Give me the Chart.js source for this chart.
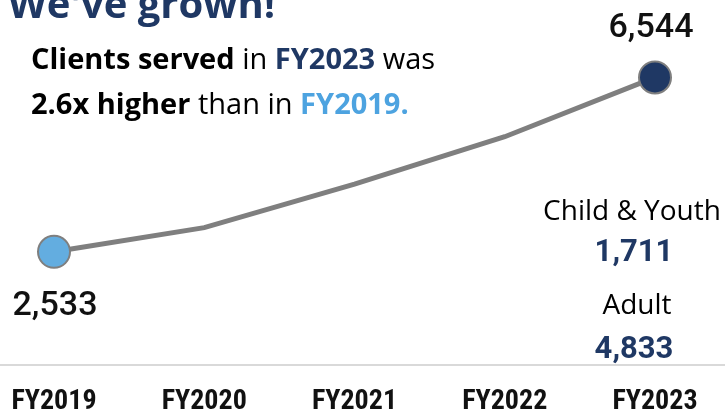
<!DOCTYPE html>
<html>
<head>
<meta charset="utf-8">
<script src="https://cdn.jsdelivr.net/npm/chart.js@4.4.0/dist/chart.umd.min.js"></script>
<style>
  html, body { margin: 0; padding: 0; background: #ffffff; }
  #wrap { width: 725px; height: 413px; position: relative; }
</style>
</head>
<body>
<div id="wrap"><canvas id="c" width="725" height="413"></canvas></div>
<script>
const categories = ["FY2019", "FY2020", "FY2021", "FY2022", "FY2023"];
const clientsServed = [2533, 3090, 4090, 5180, 6544];
const breakdownLabels = ["Child & Youth", "Adult"];
const breakdownValues = [1711, 4833];
const titleText = "We've grown!";

const NAVY = "#1f3864";
const LIGHTBLUE = "#4da3e0";
const fmt = v => v.toLocaleString("en-US");

const textPlugin = {
  id: "textPlugin",
  afterDraw(chart) {
    const ctx = chart.ctx;
    const area = chart.chartArea;
    const xs = chart.scales.x, ys = chart.scales.y;
    ctx.save();
    // full-width baseline
    ctx.strokeStyle = "#d9d9d9";
    ctx.lineWidth = 2;
    ctx.beginPath();
    ctx.moveTo(0, area.bottom + 3);
    ctx.lineTo(725, area.bottom + 3);
    ctx.stroke();

    // title
    ctx.textBaseline = "alphabetic";
    ctx.textAlign = "left";
    ctx.fillStyle = NAVY;
    ctx.font = "bold 40px 'Open Sans', sans-serif";
    ctx.fillText(titleText, 8, 18);

    // rich subtitle
    const rich = (segs, x, y) => {
      segs.forEach(s => {
        ctx.font = (s.b ? "bold " : "") + "29px 'Open Sans', sans-serif";
        ctx.fillStyle = s.c || "#000000";
        ctx.fillText(s.t, x, y);
        x += ctx.measureText(s.t).width;
      });
    };
    rich([{t: "Clients served", b: true}, {t: " in "}, {t: "FY2023", b: true, c: NAVY}, {t: " was"}], 31, 69);
    rich([{t: "2.6x higher", b: true}, {t: " than in "}, {t: "FY2019.", b: true, c: LIGHTBLUE}], 31, 114);

    // endpoint labels
    ctx.textAlign = "center";
    ctx.fillStyle = "#111111";
    ctx.font = "500 34px Roboto, sans-serif";
    const first = 0, last = clientsServed.length - 1;
    ctx.fillText(fmt(clientsServed[first]), xs.getPixelForValue(first) + 1, ys.getPixelForValue(clientsServed[first]) + 63);
    ctx.fillText(fmt(clientsServed[last]), xs.getPixelForValue(last) - 4, ys.getPixelForValue(clientsServed[last]) - 40);

    // breakdown
    const bx = 634;
    ctx.fillStyle = "#000000";
    ctx.font = "28px 'Open Sans', sans-serif";
    ctx.fillText(breakdownLabels[0], bx - 2, 220);
    ctx.fillText(breakdownLabels[1], bx + 3, 314);
    ctx.fillStyle = NAVY;
    ctx.font = "bold 31px Roboto, sans-serif";
    ctx.fillText(fmt(breakdownValues[0]), bx, 261);
    ctx.fillText(fmt(breakdownValues[1]), bx, 358);
    ctx.restore();
  }
};

new Chart(document.getElementById("c"), {
  type: "line",
  data: {
    labels: categories,
    datasets: [{
      data: clientsServed,
      borderColor: "#7f7f7f",
      borderWidth: 5,
      tension: 0,
      clip: false,
      pointRadius: clientsServed.map((v, i) => (i === 0 || i === clientsServed.length - 1) ? 16 : 0),
      pointHoverRadius: 0,
      pointBackgroundColor: clientsServed.map((v, i) => i === 0 ? "#63ade0" : NAVY),
      pointBorderColor: "#7f7f7f",
      pointBorderWidth: 2
    }]
  },
  options: {
    responsive: false,
    devicePixelRatio: 1,
    animation: false,
    events: [],
    layout: { padding: { left: 54, right: 70, top: 0, bottom: 0 } },
    plugins: { legend: { display: false }, tooltip: { enabled: false } },
    scales: {
      x: {
        offset: false,
        grid: { display: false, drawTicks: false },
        border: { display: false },
        afterFit(scale) { scale.height = 51; scale.paddingLeft = 0; scale.paddingRight = 0; },
        ticks: {
          color: "#111111",
          padding: 23,
          maxRotation: 0,
          autoSkip: false,
          font: { family: "'Liberation Sans Narrow', 'Roboto Condensed', Roboto, sans-serif", size: 28, weight: "bold" }
        }
      },
      y: {
        display: false,
        min: 0,
        max: 7910
      }
    }
  },
  plugins: [textPlugin]
});
</script>
</body>
</html>
